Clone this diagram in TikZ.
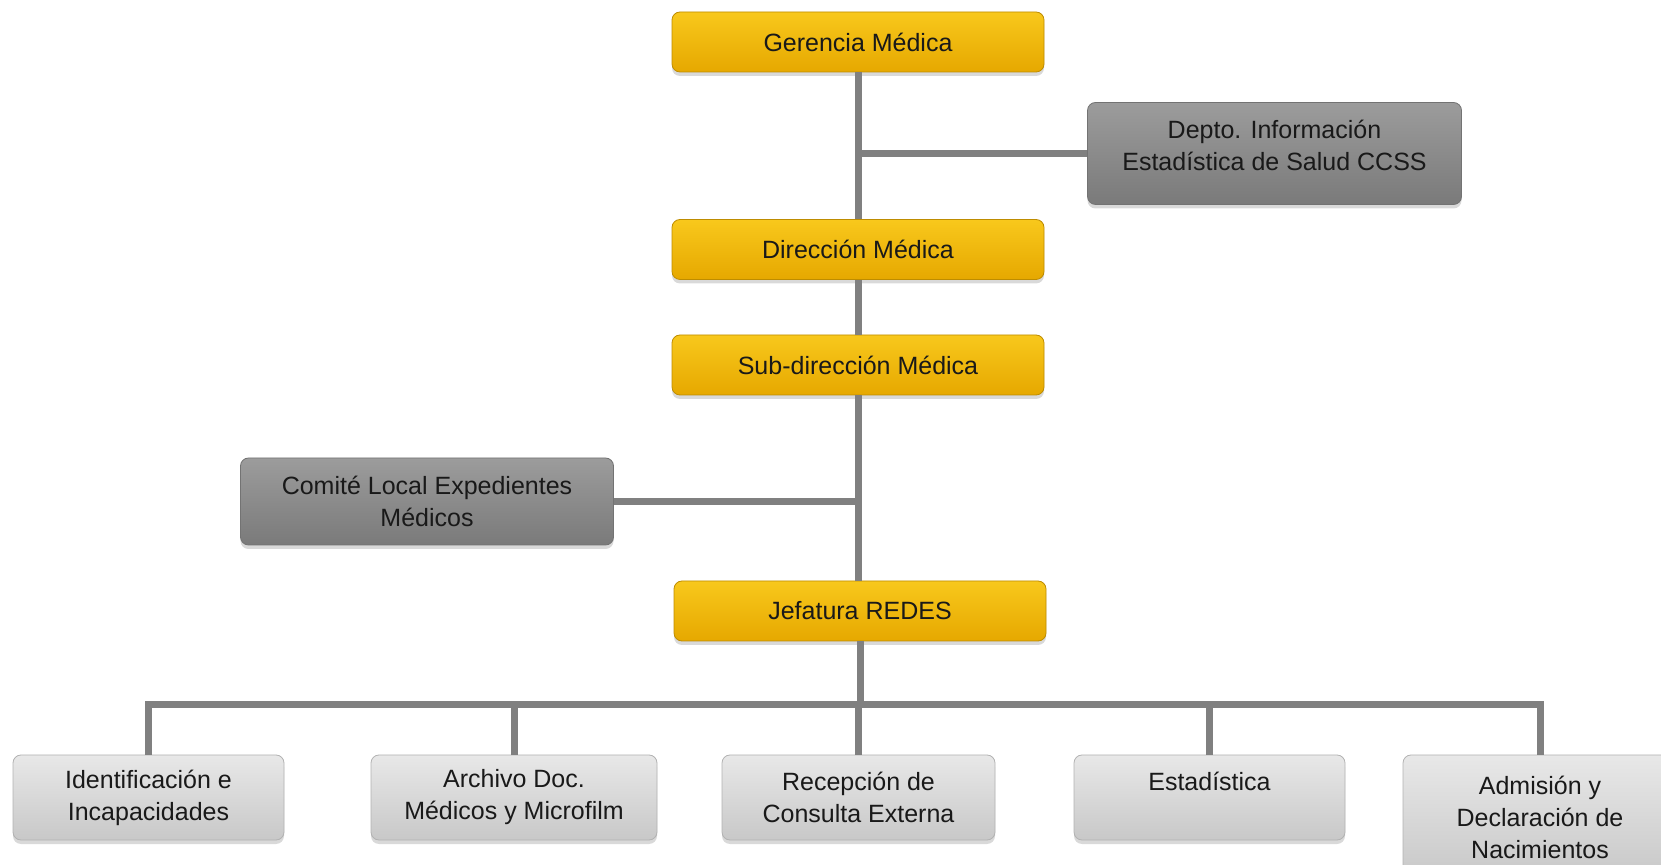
\documentclass[tikz,border=0pt]{standalone}
\usepackage{fontspec}
\setmainfont{Liberation Sans}
\usepackage{tikz}
\usepackage{xcolor}
\usetikzlibrary{
    shadows,
    positioning
}

\definecolor{goldtop}{RGB}{248,200,28}
\definecolor{goldbot}{RGB}{230,168,0}
\definecolor{goldline}{RGB}{190,140,0}
\definecolor{darktop}{RGB}{156,156,156}
\definecolor{darkbot}{RGB}{122,122,122}
\definecolor{lighttop}{RGB}{232,232,232}
\definecolor{lightbot}{RGB}{200,200,200}
\definecolor{linkgray}{RGB}{128,128,128}

\tikzset{
    box/.style={rounded corners=4pt, align=center, text=black!90,
        font=\fontsize{12.5}{16}\selectfont,
        drop shadow={shadow xshift=0pt, shadow yshift=-2pt, opacity=0.3}},
    goldbox/.style={box, draw=goldline, top color=goldtop, bottom color=goldbot,
        minimum width=186pt, minimum height=30pt},
    darkbox/.style={box, draw=black!55, top color=darktop, bottom color=darkbot,
        minimum width=187pt},
    lightbox/.style={box, draw=black!30, top color=lighttop, bottom color=lightbot,
        minimum width=135.5pt, minimum height=42.5pt},
    link/.style={draw=linkgray, line width=3.5pt}
}

\begin{document}
\begin{tikzpicture}[x=0.5pt, y=-0.5pt]
    \useasboundingbox (0, 0) rectangle (1661, 865);

    \coordinate (bus) at (0, 705);

    \node[goldbox] (gerencia) at (858, 42) {Gerencia Médica};
    \node[darkbox, minimum height=51pt] (depto) at (1274.5, 153.5)
        {Depto. Información\\Estadística de Salud CCSS\\[-8pt]\mbox{}};
    \node[goldbox] (direccion) at (858, 249.5) {Dirección Médica};
    \node[goldbox] (subdireccion) at (858, 365) {Sub-dirección Médica};
    \node[darkbox, minimum width=186.5pt, minimum height=43.5pt] (comite) at (427, 501.5)
        {Comité Local Expedientes\\Médicos};
    \node[goldbox] (jefatura) at (860, 611) {Jefatura REDES};

    % bottom row
    \node[lightbox] (identificacion) at (148.5, 797.5) {Identificación e\\Incapacidades};
    \node[lightbox, minimum width=143pt] (archivo) at (514, 797.5) {Archivo Doc.\\Médicos y Microfilm};
    \node[lightbox, minimum width=136.5pt] (recepcion) at (858.5, 797.5) {Recepción de\\Consulta Externa};
    \node[lightbox] (estadistica) at (1209.5, 797.5) {Estadística\\\mbox{}};
    \node[lightbox, minimum width=137pt, minimum height=62pt] (admision) at (1540, 817)
        {Admisión y\\Declaración de\\Nacimientos};

    \path[link]
        (gerencia.south) -- (direccion.north)
        (direccion.south) -- (subdireccion.north)
        (subdireccion.south) -- (jefatura.north -| subdireccion.south)
        (depto.west) -- (depto.west -| gerencia.south)
        (comite.east) -- (comite.east -| subdireccion.south)
        (jefatura.south) -- (jefatura.south |- bus)
        (identificacion.north) |- (admision.north |- bus) -- (admision.north)
        (archivo.north) -- (archivo.north |- bus)
        (recepcion.north) -- (recepcion.north |- bus)
        (estadistica.north) -- (estadistica.north |- bus);
\end{tikzpicture}
\end{document}
